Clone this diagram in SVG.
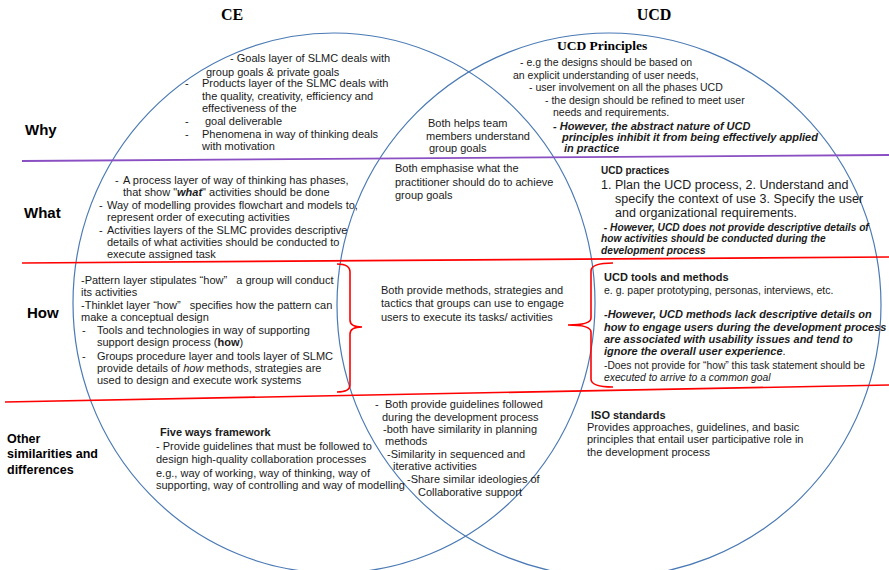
<svg xmlns="http://www.w3.org/2000/svg" width="889" height="570" viewBox="0 0 889 570">
<style>
text{font-family:"Liberation Sans",Arial,sans-serif;font-size:11px;fill:#1a1a1a}
.b{font-weight:bold}
.i{font-style:italic}
.bi{font-weight:bold;font-style:italic}
.hdr{font-family:"Liberation Serif","Times New Roman",serif;font-weight:bold;font-size:16px;fill:#000}
.row{font-weight:bold;font-size:15px;fill:#000}
.row2{font-weight:bold;font-size:12.5px;fill:#000}
.p{font-size:10.5px}
.ell{fill:none;stroke:#4a7ab5;stroke-width:1.2}
.red{fill:none;stroke:#ff0000;stroke-width:1.6}
</style>
<rect width="889" height="570" fill="#fff"/>
<g id="venn">
<ellipse class="ell" cx="334" cy="303" rx="261" ry="270"/>
<ellipse class="ell" cx="609" cy="305" rx="272" ry="272"/>
</g>
<g id="connectors">
<line x1="22" y1="161" x2="889" y2="155" stroke="#8a4fc2" stroke-width="1.8"/>
<line class="red" x1="22" y1="263" x2="889" y2="257"/>
<line class="red" x1="5" y1="402" x2="889" y2="385"/>
<path class="red" d="M337,264 Q350,264 350,272 L350,320 Q350,327 362,327 Q350,327 350,334 L350,385 Q350,392 337,392"/>
<path class="red" d="M613,263 Q591,263 591,271 L591,318 Q591,325 568,325 Q591,325 591,332 L591,379 Q591,387 613,387"/>
</g>
<g id="header-ce"><text class="hdr" x="232" y="20" text-anchor="middle">CE</text></g>
<g id="header-ucd"><text class="hdr" x="654" y="20" text-anchor="middle">UCD</text></g>
<g id="label-why"><text class="row" x="25" y="135">Why</text></g>
<g id="label-what"><text class="row" x="24" y="218">What</text></g>
<g id="label-how"><text class="row" x="27" y="318">How</text></g>
<g id="label-other">
<text class="row2" x="7" y="443">Other</text>
<text class="row2" x="7" y="458">similarities and</text>
<text class="row2" x="7" y="474">differences</text>
</g>
<g id="ce-why">
<text x="230" y="61.5">- Goals layer of SLMC deals with</text>
<text x="206" y="75.5">group goals &amp; private goals</text>
<text x="185" y="87">-</text><text x="202" y="87">Products layer of the SLMC deals with</text>
<text x="202" y="99.5">the quality, creativity, efficiency and</text>
<text x="202" y="112">effectiveness of the</text>
<text x="185" y="124.5">-</text><text x="205" y="124.5">goal deliverable</text>
<text x="185" y="137.5">-</text><text x="202" y="137.5">Phenomena in way of thinking deals</text>
<text x="202" y="150">with motivation</text>
</g>
<g id="both-why">
<text x="428" y="126.5">Both helps team</text>
<text x="426" y="139.5">members understand</text>
<text x="429" y="151.5">group goals</text>
</g>
<g id="ucd-principles">
<text x="557" y="50" class="hdr" style="font-size:13.5px">UCD Principles</text>
<text class="p" x="520" y="66">- e.g the designs should be based on</text>
<text class="p" x="513" y="78.5">an explicit understanding of user needs,</text>
<text class="p" x="529" y="91">- user involvement on all the phases UCD</text>
<text class="p" x="545" y="103.5">- the design should be refined to meet user</text>
<text class="p" x="553" y="116">needs and requirements.</text>
<text class="bi" x="553" y="129.5">- However, the abstract nature of UCD</text>
<text class="bi" x="562" y="140.5">principles inhibit it from being effectively applied</text>
<text class="bi" x="564" y="151.5">in practice</text>
</g>
<g id="ce-what">
<text x="115" y="183.5">-</text><text x="123" y="183.5">A process layer of way of thinking has phases,</text>
<text x="123" y="195.5">that show "<tspan class="bi">what</tspan>" activities should be done</text>
<text x="99" y="208.5">-</text><text x="107" y="208.5">Way of modelling provides flowchart and models to,</text>
<text x="107" y="220.5">represent order of executing activities</text>
<text x="99" y="233.5">-</text><text x="107" y="233.5">Activities layers of the SLMC provides descriptive</text>
<text x="107" y="245.5">details of what activities should be conducted to</text>
<text x="107" y="257.5">execute assigned task</text>
</g>
<g id="both-what">
<text x="395" y="171.5">Both emphasise what the</text>
<text x="395" y="185.5">practitioner should do to achieve</text>
<text x="395" y="198.5">group goals</text>
</g>
<g id="ucd-practices">
<text class="b" x="601" y="173.5" style="font-size:10px">UCD practices</text>
<text x="601" y="188.5" style="font-size:12.5px">1. Plan the UCD process, 2. Understand and</text>
<text x="615" y="202.5" style="font-size:12.5px">specify the context of use 3. Specify the user</text>
<text x="615" y="217" style="font-size:12.5px">and organizational requirements.</text>
<text class="bi" x="601" y="230.5" style="font-size:10.2px" xml:space="preserve"> - However, UCD does not provide descriptive details of</text>
<text class="bi" x="601" y="241.5" style="font-size:10.2px">how activities should be conducted during the</text>
<text class="bi" x="601" y="253.5" style="font-size:10.2px">development process</text>
</g>
<g id="ce-how">
<text x="81" y="283.5" xml:space="preserve">-Pattern layer stipulates “how”   a group will conduct</text>
<text x="81" y="295.5">its activities</text>
<text x="81" y="309" xml:space="preserve">-Thinklet layer “how”   specifies how the pattern can</text>
<text x="81" y="321">make a conceptual design</text>
<text x="82" y="334">-</text><text x="97" y="334">Tools and technologies in way of supporting</text>
<text x="97" y="346">support design process (<tspan class="b">how</tspan>)</text>
<text x="82" y="359.5">-</text><text x="97" y="359.5">Groups procedure layer and tools layer of SLMC</text>
<text x="97" y="371.5">provide details of <tspan class="i">how</tspan> methods, strategies are</text>
<text x="97" y="384">used to design and execute work systems</text>
</g>
<g id="both-how">
<text x="381" y="293.5">Both provide methods, strategies and</text>
<text x="381" y="306.5">tactics that groups can use to engage</text>
<text x="381" y="320.5">users to execute its tasks/ activities</text>
</g>
<g id="ucd-tools">
<text class="b" x="604" y="280.5">UCD tools and methods</text>
<text x="604" y="293.5" style="font-size:10.5px">e. g. paper prototyping, personas, interviews, etc.</text>
<text class="bi" x="604" y="317.5">-However, UCD methods lack descriptive details on</text>
<text class="bi" x="604" y="330.5">how to engage users during the development process</text>
<text class="bi" x="604" y="342.5">are associated with usability issues and tend to</text>
<text x="604" y="354.5"><tspan class="bi">ignore the overall user experience</tspan>.</text>
<text x="604" y="368.5" style="font-size:10.3px">-Does not provide for “how” this task statement should be</text>
<text class="i" x="604" y="380.5" style="font-size:10.3px">executed to arrive to a common goal</text>
</g>
<g id="five-ways">
<text class="b" x="160" y="435.5">Five ways framework</text>
<text x="156" y="449.5">- Provide guidelines that must be followed to</text>
<text x="156" y="462.5">design high-quality collaboration processes</text>
<text x="156" y="476.5">e.g., way of working, way of thinking, way of</text>
<text x="156" y="488.5">supporting, way of controlling and way of modelling</text>
</g>
<g id="both-other">
<text x="375" y="407.5">-</text><text x="385" y="407.5">Both provide guidelines followed</text>
<text x="382" y="420.5">during the development process</text>
<text x="383" y="432.5">-both have similarity in planning</text>
<text x="385" y="444.5">methods</text>
<text x="387" y="457.5">-Similarity in sequenced and</text>
<text x="393" y="469.5">iterative activities</text>
<text x="407" y="482.5">-Share similar ideologies of</text>
<text x="418" y="495.5">Collaborative support</text>
</g>
<g id="iso">
<text class="b" x="591" y="418.5">ISO standards</text>
<text x="587" y="430.5">Provides approaches, guidelines, and basic</text>
<text x="587" y="442.5">principles that entail user participative role in</text>
<text x="587" y="455.5">the development process</text>
</g>
</svg>
